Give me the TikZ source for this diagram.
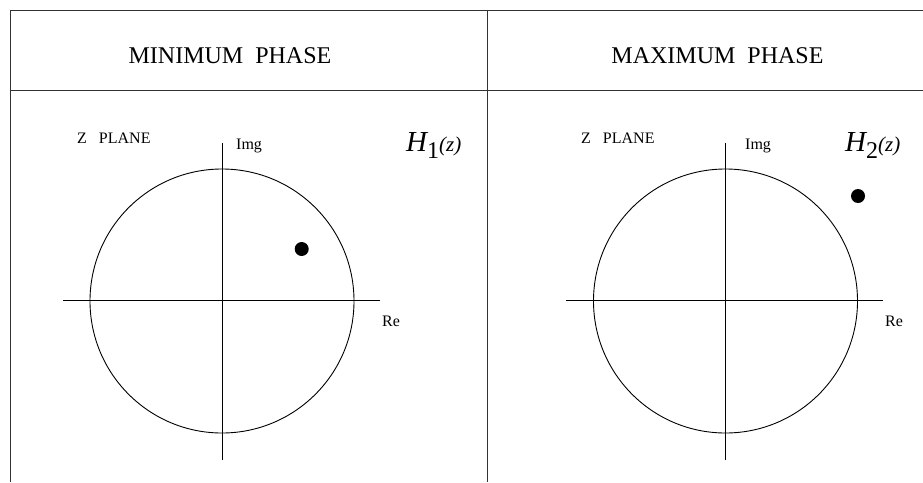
\documentclass[tikz,border=0pt]{standalone}
\usepackage{fontspec}
\setmainfont{Liberation Serif}
\tikzset{
  frame/.style={line width=1pt, draw=black!80},
  axis/.style={line width=0.9pt, draw=black},
  ucircle/.style={circle, draw=black, line width=0.9pt, minimum size=264pt, inner sep=0pt},
  pole/.style={circle, fill=black, minimum size=14pt, inner sep=0pt},
  title/.style={font=\fontsize{24}{28}\selectfont, inner sep=0pt},
  small/.style={font=\fontsize{16}{19}\selectfont, inner sep=0pt},
}
\newcommand{\Hlabel}[1]{{\fontsize{29}{32}\selectfont\itshape H}\kern0pt\raisebox{-7pt}{\fontsize{24}{28}\selectfont #1}{\fontsize{21}{24}\selectfont\itshape (z)}}
\begin{document}
\begin{tikzpicture}[x=1pt, y=-1pt]
\useasboundingbox (0,0) rectangle (923,482);
% frame
\draw[frame] (10.5,482) -- (10.5,10) -- (923,10);
\draw[frame] (10.5,90) -- (923,90);
\draw[frame] (487,10) -- (487,482);
% titles
\node[title] (t1) at (230,56) {MINIMUM\ \ PHASE};
\node[title] (t2) at (717.5,56) {MAXIMUM\ \ PHASE};
% left plane
\node[ucircle] (c1) at (222,301) {};
\coordinate (l1a) at (63,300); \coordinate (l1b) at (380,300);
\coordinate (v1a) at (222,143); \coordinate (v1b) at (222,460);
\draw[axis] (l1a) -- (l1b);
\draw[axis] (v1a) -- (v1b);
\node[small, anchor=base west] (z1) at (77,143) {Z\ \ \ PLANE};
\node[small, anchor=base west] (i1) at (236,149) {Img};
\node[small, anchor=base west] (r1) at (382,326) {Re};
\node[anchor=base west, inner sep=0pt] (h1) at (406,151) {\Hlabel{1}};
\node[pole] (p1) at (301.7,249) {};
% right plane
\node[ucircle] (c2) at (725.5,301) {};
\coordinate (l2a) at (566,300); \coordinate (l2b) at (883,300);
\coordinate (v2a) at (725.5,143); \coordinate (v2b) at (725.5,460);
\draw[axis] (l2a) -- (l2b);
\draw[axis] (v2a) -- (v2b);
\node[small, anchor=base west] (z2) at (581,143) {Z\ \ \ PLANE};
\node[small, anchor=base west] (i2) at (745,149) {Img};
\node[small, anchor=base west] (r2) at (885,326) {Re};
\node[anchor=base west, inner sep=0pt] (h2) at (845,151) {\Hlabel{2}};
\node[pole] (p2) at (858,196) {};
\end{tikzpicture}
\end{document}
